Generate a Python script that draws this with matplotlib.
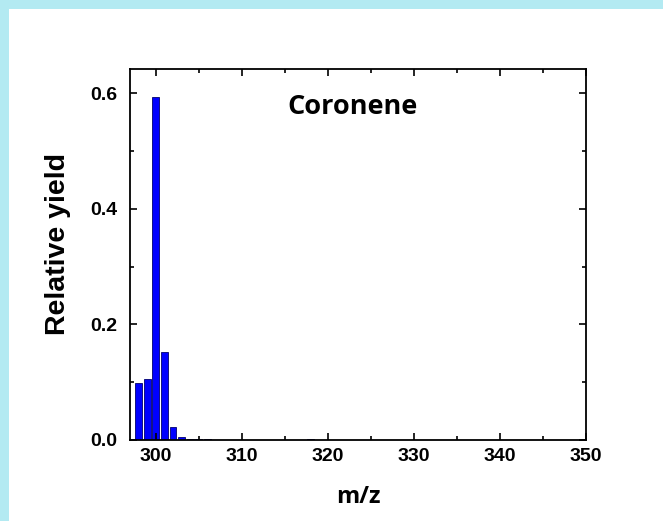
"""
Coronene fragment mass spectrum - relative yield vs m/z.
"""
import matplotlib
matplotlib.use("Agg")
import matplotlib.pyplot as plt
from matplotlib.patches import Rectangle
from matplotlib.ticker import MultipleLocator, FormatStrFormatter

# --- Data ---
mz = [298, 299, 300, 301, 302, 303, 304, 305, 306, 311, 312, 318]
yield_rel = [0.098, 0.106, 0.594, 0.153, 0.0225, 0.0058, 0.0025, 0.0012, 0.001,
             0.0008, 0.0008, 0.0015]

fig = plt.figure(figsize=(6.63, 5.21), dpi=100)

# cyan frame strips (top and left)
fig.patches.append(Rectangle((0, 1 - 9 / 521), 1, 9 / 521, transform=fig.transFigure,
                             facecolor="#b3eaf2", edgecolor="none", zorder=0))
fig.patches.append(Rectangle((0, 0), 8.5 / 663, 1, transform=fig.transFigure,
                             facecolor="#b3eaf2", edgecolor="none", zorder=0))

ax = fig.add_axes([130 / 663, 81 / 521, 456 / 663, 371 / 521])
ax.bar(mz, yield_rel, width=0.8, color="#0000ff", edgecolor="#00006e", linewidth=0.6)

ax.set_xlim(297, 350)
ax.set_ylim(0, 0.642)
ax.xaxis.set_major_locator(MultipleLocator(10))
ax.xaxis.set_minor_locator(MultipleLocator(5))
ax.yaxis.set_major_locator(MultipleLocator(0.2))
ax.yaxis.set_minor_locator(MultipleLocator(0.1))
ax.yaxis.set_major_formatter(FormatStrFormatter("%.1f"))
ax.tick_params(which="both", direction="in", top=True, right=True, width=1.2)
ax.tick_params(which="major", length=5)
ax.tick_params(which="minor", length=3)
ax.tick_params(axis="x", which="major", labelsize=14, pad=6)
ax.tick_params(axis="y", which="major", labelsize=14, pad=9)
for lab in ax.get_xticklabels() + ax.get_yticklabels():
    lab.set_fontfamily("Liberation Sans")
    lab.set_fontweight("bold")
for s in ax.spines.values():
    s.set_linewidth(1.3)

ax.set_ylabel("Relative yield", fontsize=20.5, fontweight="bold",
              fontfamily="Liberation Sans")
ax.yaxis.set_label_coords(-0.129, 0.527)
fig.text(358 / 663, 1 - 497 / 521, "m/z", fontsize=17, fontweight="bold",
         fontfamily="Open Sans", ha="center", va="center")
ax.text(322.9, 0.576, "Coronene", fontsize=19.5, fontweight="bold",
        fontfamily="Open Sans", ha="center", va="center")

fig.savefig("out.png", dpi=100)
